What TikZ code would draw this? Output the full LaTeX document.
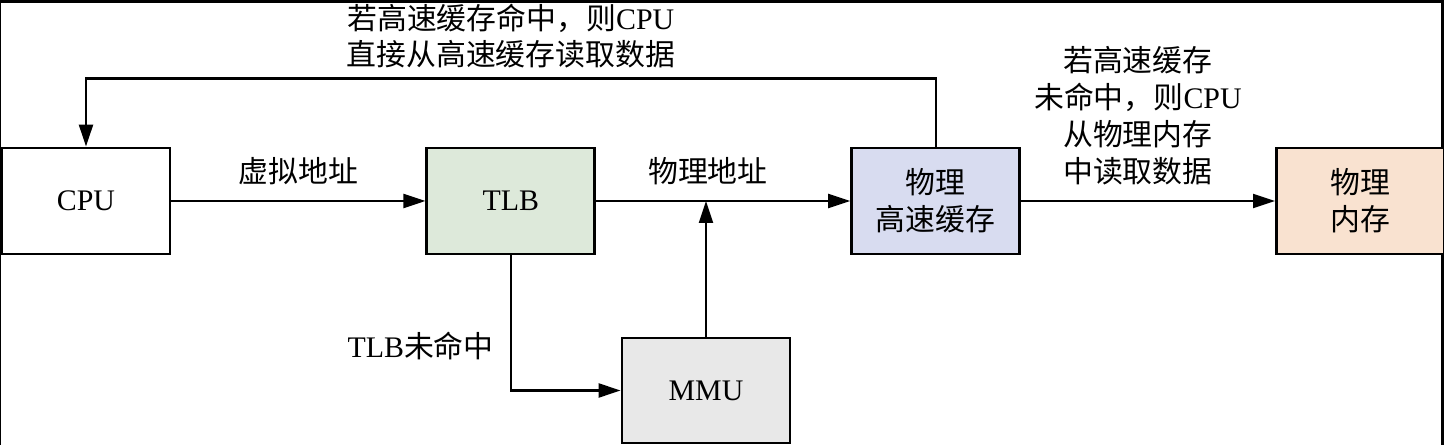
\documentclass[tikz,border=0pt]{standalone}
\usepackage{fontspec}
\setmainfont{Liberation Serif}
\newfontfamily\cjk{Noto Sans CJK SC}
\usetikzlibrary{arrows.meta,positioning}
\definecolor{tlbgreen}{RGB}{221,233,218}
\definecolor{cacheblue}{RGB}{216,220,240}
\definecolor{mempeach}{RGB}{249,226,208}
\definecolor{mmugray}{RGB}{232,232,232}
\tikzset{
    unit-box/.style = {draw=black, line width=1.6pt, rectangle, minimum width=3.36cm, minimum height=2.12cm, inner sep=0pt, align=center, font=\fontsize{17}{21}\selectfont},
    flow-arrow/.style = {line width=1.25pt, -{Triangle[length=0.44cm, width=0.28cm]}},
    flow-label/.style = {inner sep=0pt, align=center, font=\fontsize{17}{21}\selectfont},
}

\begin{document}
\begin{tikzpicture}
\useasboundingbox (0,0) rectangle (28.88,-8.9);
\fill[black] (0,0) rectangle (28.88,-8.9);
\fill[white] (0.02,-0.06) rectangle (28.82,-8.9);

\node [unit-box] (cpu) at (1.72,-4.02) {CPU};
\node [unit-box, fill=tlbgreen, right=5.08cm of cpu] (tlb) {TLB};
\node [unit-box, fill=cacheblue, right=5.08cm of tlb] (cache) {{\cjk 物理}\\{\cjk 高速缓存}};
\node [unit-box, fill=mempeach, right=5.08cm of cache] (mem) {{\cjk 物理}\\{\cjk 内存}};
\node [unit-box, fill=mmugray, minimum height=2.1cm] (mmu) at (14.12,-7.81) {MMU};

\draw [flow-arrow] (cpu) -- node[flow-label, above=0.3cm] {\cjk 虚拟地址} (tlb);
\draw [flow-arrow] (tlb) -- node[flow-label, pos=0.44, above=0.3cm] {\cjk 物理地址} (cache);
\draw [flow-arrow] (cache) -- node[flow-label, pos=0.46, above=0.3cm] {{\cjk 若高速缓存}\\{\cjk 未命中，则}CPU\\{\cjk 从物理内存}\\{\cjk 中读取数据}} (mem);
\draw [flow-arrow] (tlb.south) |- node[flow-label, pos=0.335, left=0.32cm] {TLB{\cjk 未命中}} (mmu.west);
\draw [flow-arrow] (mmu.north) -- (mmu.north |- tlb.east);
\draw [flow-arrow] (cache.north) -- ++(0,1.36) -| node[flow-label, pos=0.25, above=0.18cm] {{\cjk 若高速缓存命中，则}CPU\\{\cjk 直接从高速缓存读取数据}} (cpu.north);
\end{tikzpicture}
\end{document}
